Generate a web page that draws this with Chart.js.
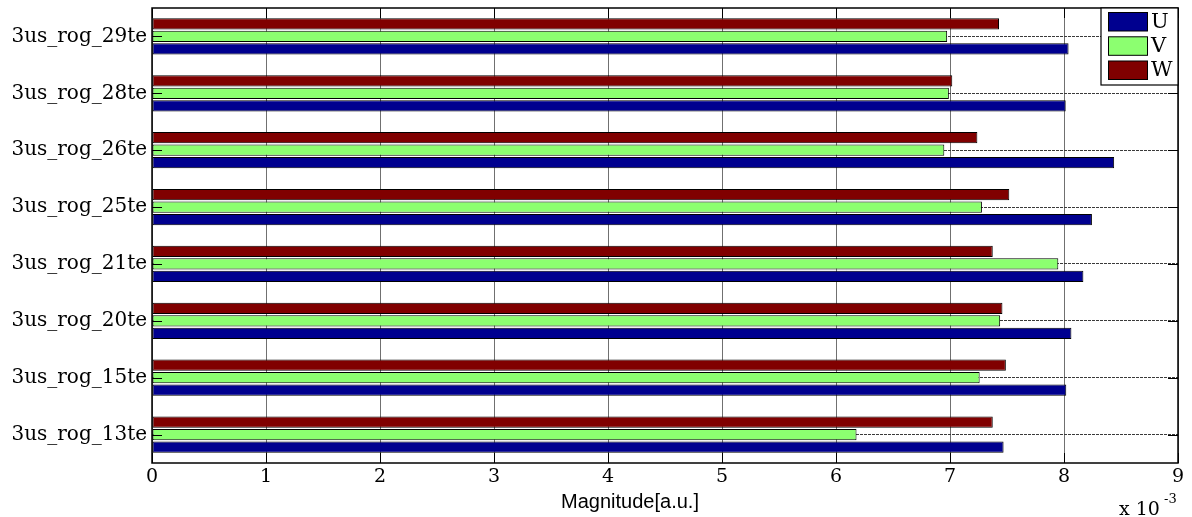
<!DOCTYPE html>
<html><head><meta charset="utf-8">
<script src="https://cdn.jsdelivr.net/npm/chart.js@4/dist/chart.umd.min.js"></script>
<style>html,body{margin:0;padding:0;background:#fff;overflow:hidden}#wrap{width:1192px;height:517px;position:relative}</style>
</head><body><div id="wrap"><canvas id="c" width="1192" height="517"></canvas></div>
<script>
// Categories listed bottom to top, as in the reference
const categories = ['3us_rog_13te','3us_rog_15te','3us_rog_20te','3us_rog_21te','3us_rog_25te','3us_rog_26te','3us_rog_28te','3us_rog_29te'];
const seriesNames = ['U','V','W'];
const seriesColors = ['#00008f','#8cff70','#800000'];
// Values in units of 10^-3
const U = [7.47, 8.02, 8.065, 8.17, 8.245, 8.44, 8.015, 8.04];
const V = [6.18, 7.26, 7.44, 7.95, 7.28, 6.95, 6.99, 6.975];
const W = [7.375, 7.49, 7.46, 7.375, 7.52, 7.24, 7.02, 7.43];
const xTicks = [0,1,2,3,4,5,6,7,8,9];
const xTitle = 'Magnitude[a.u.]';
const exponentBase = 'x 10';
const exponentPower = '-3';

const seriesValues = [U, V, W];
// draw order inside each group: W on top, then V, then U
const datasets = [2,1,0].map(i => ({
  label: seriesNames[i], data: seriesValues[i],
  backgroundColor: seriesColors[i], borderColor: '#000', borderWidth: 1,
  borderSkipped: false, categoryPercentage: 0.66, barPercentage: 0.9
}));

const deco = {
  id: 'deco',
  afterDraw(chart) {
    const ctx = chart.ctx, a = chart.chartArea;
    const xs = chart.scales.x, ys = chart.scales.y;
    ctx.save();
    ctx.strokeStyle = '#000'; ctx.lineWidth = 1;
    // inward tick marks
    ctx.beginPath();
    xTicks.forEach(t => {
      const px = Math.round(xs.getPixelForValue(t)) + 0.5;
      ctx.moveTo(px, a.bottom); ctx.lineTo(px, a.bottom - 10);
      ctx.moveTo(px, a.top); ctx.lineTo(px, a.top + 10);
    });
    categories.forEach((c, i) => {
      const py = Math.round(ys.getPixelForValue(i)) + 0.5;
      ctx.moveTo(a.left, py); ctx.lineTo(a.left + 10, py);
      ctx.moveTo(a.right, py); ctx.lineTo(a.right - 10, py);
    });
    ctx.stroke();
    // box
    ctx.lineWidth = 1.5;
    ctx.strokeRect(a.left, a.top, a.right - a.left, a.bottom - a.top);
    // legend
    const lx = a.right - 77, ly = a.top, lw = 77, lh = 77;
    ctx.fillStyle = '#fff';
    ctx.fillRect(lx, ly, lw, lh);
    ctx.lineWidth = 1.2;
    ctx.strokeRect(lx, ly, lw, lh);
    ctx.font = '21px "DejaVu Serif"';
    ctx.textBaseline = 'middle'; ctx.textAlign = 'left';
    const centers = [13.5, 37.8, 62];
    seriesNames.forEach((n, i) => {
      const cy = ly + centers[i];
      ctx.fillStyle = seriesColors[i];
      ctx.fillRect(lx + 7.5, cy - 9, 39, 18.5);
      ctx.lineWidth = 1;
      ctx.strokeStyle = '#000';
      ctx.strokeRect(lx + 7.5, cy - 9, 39, 18.5);
      ctx.fillStyle = '#000';
      ctx.fillText(n, lx + 50, cy + 1);
    });
    // axis title
    ctx.font = '20px "Liberation Sans"';
    ctx.textAlign = 'center'; ctx.textBaseline = 'middle';
    ctx.fillText(xTitle, 630, 502);
    // exponent
    ctx.font = '19px "DejaVu Serif"';
    ctx.textAlign = 'left'; ctx.textBaseline = 'alphabetic';
    ctx.fillText(exponentBase, 1119, 515);
    ctx.font = '13px "DejaVu Serif"';
    ctx.fillText(exponentPower, 1164, 503);
    ctx.restore();
  }
};

new Chart(document.getElementById('c'), {
  type: 'bar',
  data: { labels: categories, datasets },
  options: {
    indexAxis: 'y', responsive: false, animation: false, devicePixelRatio: 1,
    layout: { padding: { top: 8, right: 14, left: 0, bottom: 0 } },
    plugins: { legend: { display: false }, tooltip: { enabled: false } },
    scales: {
      x: {
        min: 0, max: 9,
        afterFit: s => { s.height = 54; },
        afterBuildTicks: s => { s.ticks = xTicks.map(v => ({ value: v })); },
        ticks: { color: '#000', font: { family: 'DejaVu Serif', size: 19 }, padding: 3, maxRotation: 0 },
        grid: { color: '#707070', lineWidth: 1, drawTicks: false },
        border: { display: false }
      },
      y: {
        reverse: true,
        afterFit: s => { s.width = 152; s.paddingTop = 0; s.paddingBottom = 0; },
        ticks: { color: '#000', font: { family: 'DejaVu Serif', size: 20 }, padding: 5 },
        grid: { offset: false, color: '#3a3a3a', lineWidth: 1, drawTicks: false },
        border: { display: false, dash: [3, 1] }
      }
    }
  },
  plugins: [deco]
});
</script></body></html>
